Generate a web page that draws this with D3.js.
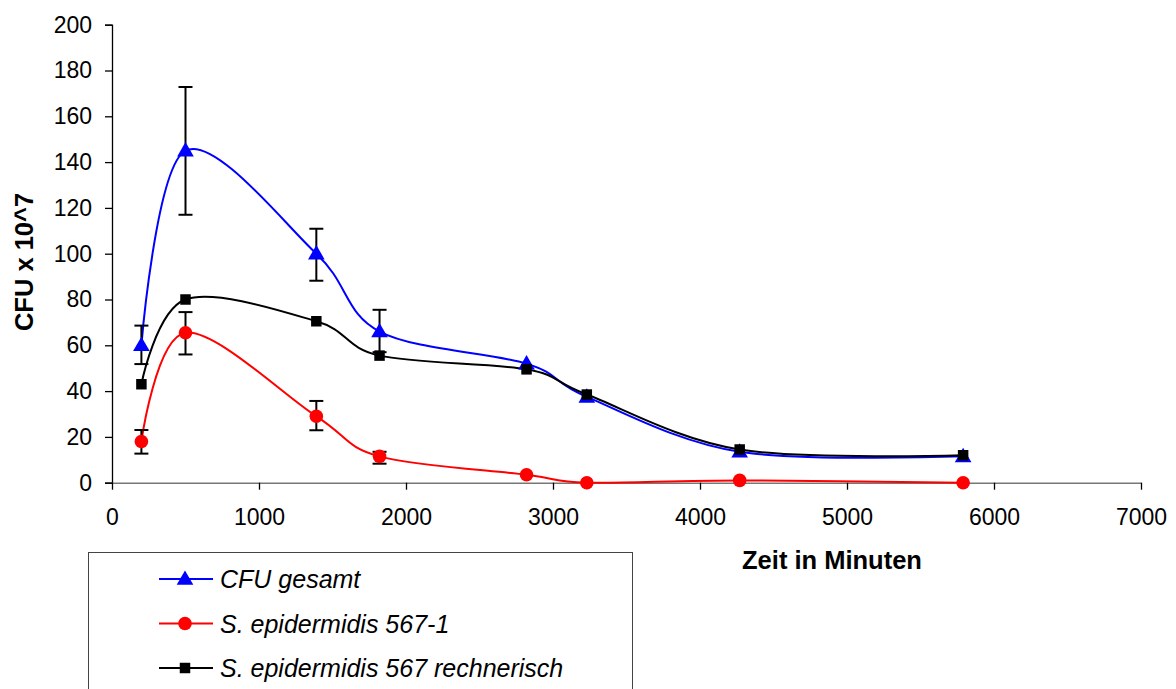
<html lang="de">
<head>
<meta charset="utf-8">
<title>CFU</title>
<script src="https://d3js.org/d3.v7.min.js"></script>
<style>
  body { margin: 0; background: #fff; }
  text { font-family: "Liberation Sans", Arial, sans-serif; }
</style>
</head>
<body>
<script>
// data
var zeit = [200, 500, 1390, 1820, 2820, 3230, 4270, 5790];
var gesamt = [60, 145, 100, 66, 52, 37.5, 13.5, 11.5];
var epi5671 = [18, 65.5, 29, 11.5, 3.5, 0, 1, 0];
var rechnerisch = [43, 80, 70.5, 55.5, 49.5, 38.5, 14.5, 12];
// error bars (low, high), first four time points only
var gesamtErrLo = [51.8, 117, 88.2, 57];
var gesamtErrHi = [68.6, 172.8, 110.9, 75.5];
var epiErrLo = [12.7, 56, 22.9, 8.3];
var epiErrHi = [23, 74.5, 35.7, 13.5];
var xTicks = [0, 1000, 2000, 3000, 4000, 5000, 6000, 7000];
var yTicks = [0, 20, 40, 60, 80, 100, 120, 140, 160, 180, 200];
var seriesNames = ["CFU gesamt", "S. epidermidis 567-1", "S. epidermidis 567 rechnerisch"];

var width = 1176, height = 689;
var svg = d3.select("body").append("svg")
    .attr("width", width)
    .attr("height", height);

var x = d3.scaleLinear().domain([0, 7000]).range([112, 1141]);
var y = d3.scaleLinear().domain([0, 200]).range([482.7, 24.7]);

// y axis
var yAxis = svg.append("g")
    .attr("transform", "translate(112,0)")
    .call(d3.axisLeft(y).tickValues(yTicks).tickSize(7).tickPadding(13));
yAxis.select(".domain").attr("stroke", "#000").attr("stroke-width", 1.3);
yAxis.selectAll(".tick line").attr("stroke", "#000").attr("stroke-width", 1.3);
yAxis.selectAll("text").attr("font-size", "23px").attr("fill", "#000")
    .attr("font-family", "Liberation Sans, Arial, sans-serif");

// x axis
var xAxis = svg.append("g")
    .attr("transform", "translate(0," + y(0) + ")")
    .call(d3.axisBottom(x).tickValues(xTicks).tickFormat(d3.format("d"))
        .tickSize(7).tickPadding(19).tickSizeOuter(0));
xAxis.select(".domain").attr("stroke", "#777").attr("stroke-width", 1.5);
xAxis.selectAll(".tick line").attr("stroke", "#000").attr("stroke-width", 1.3);
xAxis.selectAll("text").attr("font-size", "23px").attr("fill", "#000")
    .attr("font-family", "Liberation Sans, Arial, sans-serif");

// axis titles
svg.append("text")
    .attr("transform", "translate(33,262) rotate(-90)")
    .attr("text-anchor", "middle")
    .attr("font-size", "25.5px")
    .attr("font-weight", "bold")
    .text("CFU x 10^7");

svg.append("text")
    .attr("x", 832)
    .attr("y", 569)
    .attr("text-anchor", "middle")
    .attr("font-size", "25.5px")
    .attr("font-weight", "bold")
    .text("Zeit in Minuten");

var line = d3.line()
    .x(function(d) { return x(d[0]); })
    .y(function(d) { return y(d[1]); })
    .curve(d3.curveCardinal.tension(0));

function pairs(vals) {
    return zeit.map(function(t, i) { return [t, vals[i]]; });
}

function errBars(lo, hi) {
    var g = svg.append("g").attr("stroke", "#000").attr("stroke-width", 2);
    lo.forEach(function(l, i) {
        var cx = x(zeit[i]);
        g.append("line").attr("x1", cx).attr("x2", cx).attr("y1", y(l)).attr("y2", y(hi[i]));
        g.append("line").attr("x1", cx - 7).attr("x2", cx + 7).attr("y1", y(l)).attr("y2", y(l));
        g.append("line").attr("x1", cx - 7).attr("x2", cx + 7).attr("y1", y(hi[i])).attr("y2", y(hi[i]));
    });
}

var tri = d3.symbol().type(d3.symbolTriangle).size(120);
var sq = d3.symbol().type(d3.symbolSquare).size(110);

function drawMarker(g, kind, color, cx, cy) {
    if (kind === "circle") {
        g.append("circle").attr("cx", cx).attr("cy", cy).attr("r", 6.8).attr("fill", color);
    } else {
        g.append("path").attr("d", kind === "tri" ? tri : sq)
            .attr("transform", "translate(" + cx + "," + (kind === "tri" ? cy + 1 : cy) + ")")
            .attr("fill", color);
    }
}

var series = [
    { vals: gesamt, color: "#0000ff", kind: "tri" },
    { vals: epi5671, color: "#ff0000", kind: "circle" },
    { vals: rechnerisch, color: "#000000", kind: "sq" }
];

// lines
series.forEach(function(s) {
    svg.append("path")
        .datum(pairs(s.vals))
        .attr("fill", "none")
        .attr("stroke", s.color)
        .attr("stroke-width", 2)
        .attr("d", line);
});

errBars(gesamtErrLo, gesamtErrHi);
errBars(epiErrLo, epiErrHi);

// markers
series.forEach(function(s) {
    var g = svg.append("g");
    pairs(s.vals).forEach(function(p) {
        drawMarker(g, s.kind, s.color, x(p[0]), y(p[1]));
    });
});

// legend
var leg = svg.append("g");
leg.append("rect")
    .attr("x", 88.5).attr("y", 552.5)
    .attr("width", 544).attr("height", 160)
    .attr("fill", "#fff")
    .attr("stroke", "#444")
    .attr("stroke-width", 1);

series.forEach(function(s, i) {
    var ly = 579 + i * 44.5;
    leg.append("line")
        .attr("x1", 159).attr("x2", 213)
        .attr("y1", ly).attr("y2", ly)
        .attr("stroke", s.color).attr("stroke-width", 2);
    drawMarker(leg, s.kind, s.color, 185, ly);
    leg.append("text")
        .attr("x", 220).attr("y", ly + 9)
        .attr("font-size", "25px")
        .attr("font-style", "italic")
        .text(seriesNames[i]);
});
</script>
</body>
</html>
